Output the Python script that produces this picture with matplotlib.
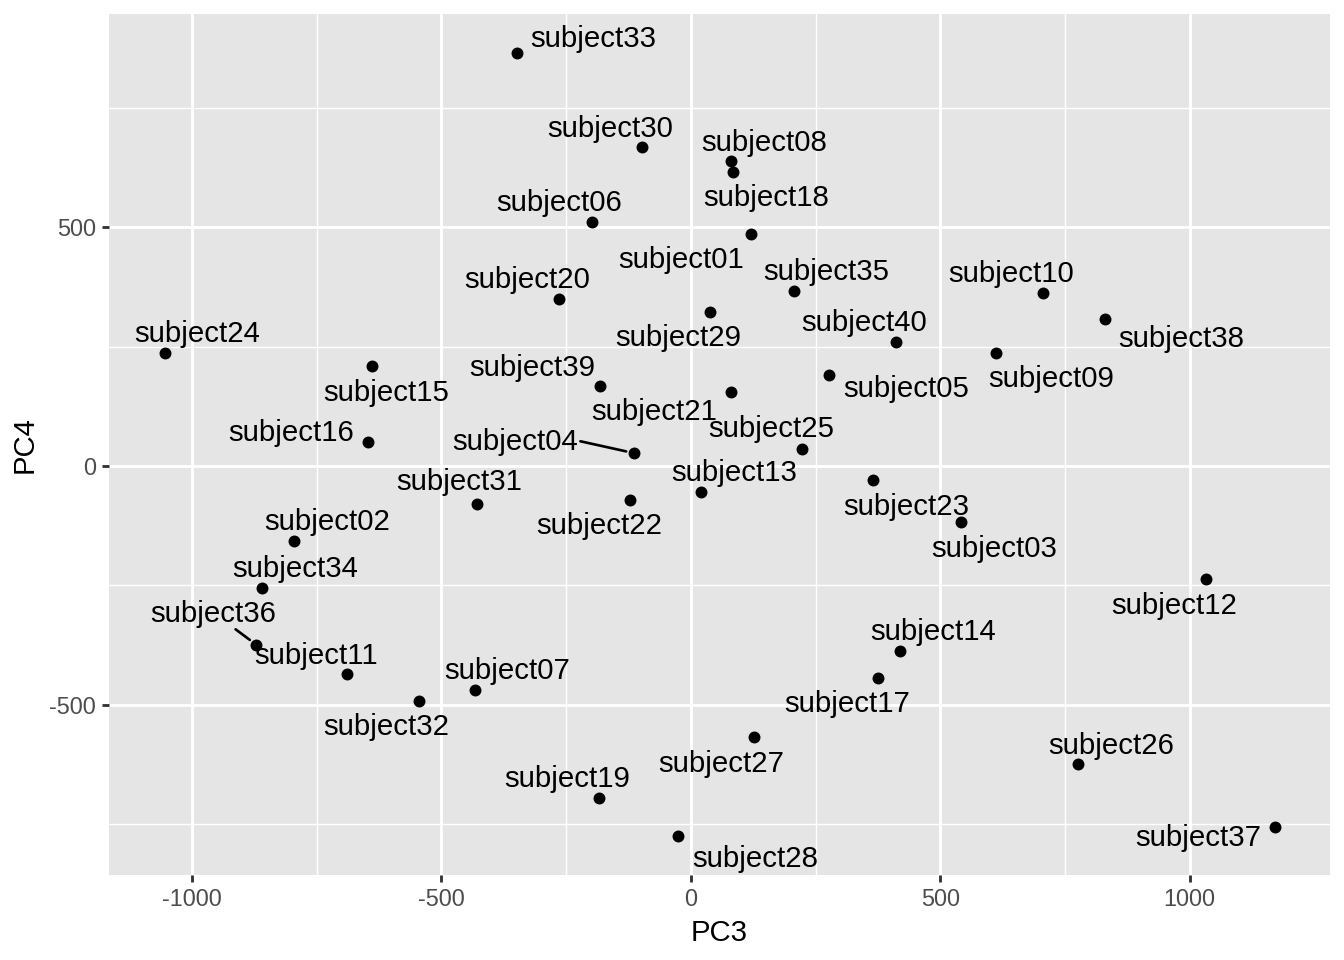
"""PCA score plot (PC3 vs PC4) with labelled subjects, ggplot-like styling."""

import matplotlib

matplotlib.use("Agg")
import matplotlib.pyplot as plt  # noqa: E402

plt.rcParams["font.family"] = ["Liberation Sans", "DejaVu Sans"]
plt.rcParams["axes.unicode_minus"] = False

subjects = [
    "subject33", "subject30", "subject08", "subject18", "subject06", "subject01",
    "subject35", "subject10", "subject38", "subject20", "subject29", "subject40",
    "subject09", "subject24", "subject15", "subject39", "subject21", "subject05",
    "subject16", "subject04", "subject25", "subject13", "subject23", "subject03",
    "subject31", "subject22", "subject02", "subject34", "subject12", "subject36",
    "subject11", "subject32", "subject07", "subject14", "subject17", "subject27",
    "subject26", "subject19", "subject28", "subject37",
]
pc3 = [
    -349, -98, 80, 84, -199, 120,
    207, 706, 830, -265, 38, 411,
    612, -1055, -640, -183, 80, 277,
    -648, -114, 223, 20, 365, 542,
    -429, -122, -796, -859, 1033, -871,
    -690, -544, -433, 419, 375, 126,
    776, -185, -26, 1170,
]
pc4 = [
    864, 667, 638, 615, 510, 485,
    366, 362, 308, 349, 322, 259,
    236, 236, 209, 167, 155, 190,
    50, 27, 36, -54, -29, -117,
    -79, -71, -157, -255, -236, -374,
    -435, -492, -469, -387, -444, -567,
    -623, -695, -774, -755,
]

# label placement (offset of label centre from its point, in image pixels, y down)
label_offset = {
    "subject33": (77, -16), "subject30": (-32, -20), "subject08": (33, -20),
    "subject18": (33, 24), "subject06": (-32, -21), "subject01": (-70, 24),
    "subject35": (32, -21), "subject10": (-32, -21), "subject38": (76, 18),
    "subject20": (-31, -21), "subject29": (-32, 24), "subject40": (-32, -21),
    "subject09": (55, 24), "subject24": (33, -21), "subject15": (15, 25),
    "subject39": (-67, -20), "subject21": (-77, 18), "subject05": (77, 12),
    "subject16": (-76, -11), "subject04": (-119, -13), "subject25": (-31, -22),
    "subject13": (33, -21), "subject23": (33, 25), "subject03": (33, 25),
    "subject31": (-18, -24), "subject22": (-31, 24), "subject02": (33, -21),
    "subject34": (33, -21), "subject12": (-32, 25), "subject36": (-43, -33),
    "subject11": (-31, -20), "subject32": (-33, 24), "subject07": (32, -21),
    "subject14": (33, -21), "subject17": (-31, 24), "subject27": (-32, 25),
    "subject26": (33, -20), "subject19": (-31, -21), "subject28": (77, 21),
    "subject37": (-76, 9),
}
# where the leader segment leaves the label box (relative position)
segment_start = {"subject04": (1.0, 0.55), "subject36": (0.66, 0.0)}

xticks = [-1000, -500, 0, 500, 1000]
yticks = [-500, 0, 500]

fig = plt.figure(figsize=(7, 5), dpi=192)
ax = fig.add_axes([109 / 1344, 1 - 875 / 960, (1330 - 109) / 1344, (875 - 14) / 960])
ax.set_facecolor("#E5E5E5")
for s in ax.spines.values():
    s.set_visible(False)

ax.scatter(pc3, pc4, s=20, color="black", zorder=3, linewidths=0)
ax.margins(0.05)

ax.set_xticks(xticks)
ax.set_yticks(yticks)
ax.set_xticks([-750, -250, 250, 750], minor=True)
ax.set_yticks([-750, -250, 250, 750], minor=True)
ax.grid(which="major", color="white", lw=1.07, zorder=0)
ax.grid(which="minor", color="white", lw=0.53, zorder=0)
ax.set_axisbelow(True)
ax.tick_params(which="major", length=2.75, width=1.07, color="#333333",
               labelsize=8.8, labelcolor="#4D4D4D", pad=2.2)
ax.tick_params(which="minor", length=0)
ax.set_xlabel("PC3", fontsize=11, labelpad=2.75)
ax.set_ylabel("PC4", fontsize=11, labelpad=4)

for name, x, y in zip(subjects, pc3, pc4):
    dx, dy = label_offset[name]
    arrow = None
    if name in segment_start:
        arrow = dict(arrowstyle="-", color="black", lw=1.0, shrinkA=1, shrinkB=3,
                     relpos=segment_start[name], patchA=None)
    ax.annotate(name, (x, y), xytext=(dx, -(dy + 2)), textcoords="offset pixels",
                ha="center", va="center", fontsize=11, color="black",
                arrowprops=arrow, zorder=4)

fig.savefig("out.png", dpi=192)
